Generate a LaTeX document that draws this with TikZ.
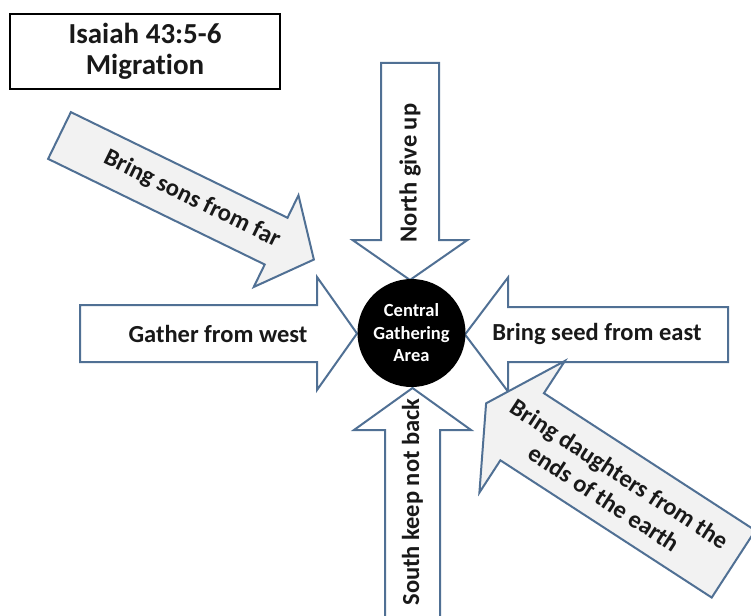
\documentclass[tikz,border=0pt]{standalone}
\usepackage{fontspec}
\setmainfont{Carlito}[Ligatures=NoCommon]
\definecolor{edgeblue}{RGB}{80,112,148}
\definecolor{lightfill}{RGB}{242,242,242}
\definecolor{inktext}{RGB}{25,25,25}
\tikzset{
  blockarrow/.style={draw=edgeblue, line width=2pt, line join=miter, fill=white},
  greyarrow/.style={blockarrow, fill=lightfill},
  lbl/.style={font=\bfseries\fontsize{24.5}{29}\selectfont, text=inktext, align=center, inner sep=0pt},
  titlebox/.style={draw=black, line width=2pt, minimum width=270pt, minimum height=75pt, align=center,
    font=\bfseries\fontsize{29}{31}\selectfont, text=inktext, inner sep=0pt},
  hub/.style={circle, fill=black, minimum size=108pt, inner sep=0pt, text=white, align=center,
    font=\bfseries\fontsize{18.5}{22.5}\selectfont},
}
% #1 style, #2 x, #3 y (back centre), #4 angle, #5 shaft length, #6 shaft width, #7 head length, #8 head width
\newcommand\blockarr[8]{%
  \begin{scope}[shift={(#2,#3)}, rotate=#4]
    \path[#1] (0,-#6/2) -- (#5,-#6/2) -- (#5,-#8/2) -- (#5+#7,0) -- (#5,#8/2) -- (#5,#6/2) -- (0,#6/2) -- cycle;
  \end{scope}}
\begin{document}
\begin{tikzpicture}[x=1pt,y=-1pt]
  \useasboundingbox (0,0) rectangle (751,615);
  \fill[white] (0,0) rectangle (751,615);
  % title
  \node[titlebox] (title) at (145,51.5) {Isaiah 43:5-6\\Migrat\kern0pt ion};
  % arrows
  \blockarr{greyarrow}{59.5}{135.5}{-26}{241}{52}{42}{102}
  \blockarr{blockarrow}{410}{63}{-90}{177}{58}{40}{115}
  \blockarr{blockarrow}{80}{333.5}{0}{237}{57}{40}{113}
  \blockarr{blockarrow}{728}{334.5}{180}{220}{55}{43}{114}
  \blockarr{blockarrow}{412.5}{630}{90}{200}{55}{42}{117}
  \blockarr{greyarrow}{733.5}{564}{147}{252}{80}{43}{157}
  % labels
  \node[lbl, rotate=-26] (sons) at (192,199) {Bring sons from far};
  \node[lbl, rotate=90] (north) at (410,173) {North give up};
  \node[lbl] (west) at (218,334) {Gather from west};
  \node[lbl] (east) at (597,334) {Bring seed from east};
  \node[lbl, rotate=90] (south) at (412.5,502) {South keep not back};
  \node[lbl, rotate=-33] (daughters) at (612,486) {Bring daughters from the\\ends of the earth};
  % hub
  \node[hub] (hub) at (411.5,333) {Central\\Gathering\\Area};
\end{tikzpicture}
\end{document}
